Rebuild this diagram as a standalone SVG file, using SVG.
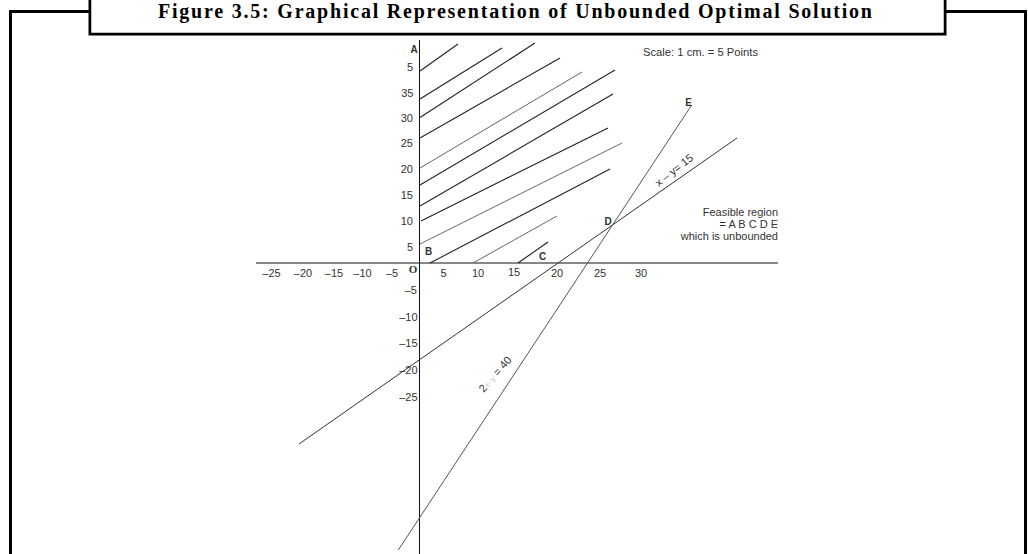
<svg xmlns="http://www.w3.org/2000/svg" width="1028" height="554" viewBox="0 0 1028 554">
<style>
.frame{fill:none;stroke:#000;stroke-width:3}
.title{font-family:"Liberation Serif",serif;font-weight:bold;font-size:20px;fill:#000}
.axis{stroke:#111;stroke-width:1;fill:none}
.tick{font-family:"Liberation Sans",Arial,sans-serif;font-size:11px;fill:#333}
.pt{font-family:"Liberation Sans",Arial,sans-serif;font-size:10px;font-weight:bold;fill:#333;text-anchor:middle}
.note{font-family:"Liberation Sans",Arial,sans-serif;font-size:11px;fill:#333}
.h{stroke:#222;stroke-width:1.1;fill:none}
.hl{stroke:#666;stroke-width:1;fill:none}
.c1{stroke:#333;stroke-width:1;fill:none}
.c2{stroke:#555;stroke-width:1;fill:none}
</style>
<rect x="0" y="0" width="1028" height="554" fill="#fff"/>
<g id="frame">
<path class="frame" d="M10.5,554 V11.5 H90 M945,11.5 H1025.5 V554"/>
<path class="frame" d="M90,-5 V34 H945 V-5" stroke-width="2.5"/>
<rect x="91.5" y="-2" width="852" height="34.5" fill="#fff"/>
<text class="title" x="158" y="18" textLength="714" lengthAdjust="spacing">Figure 3.5: Graphical Representation of Unbounded Optimal Solution</text>
</g>
<g id="axes">
<line class="axis" x1="419.5" y1="40" x2="419.5" y2="554"/>
<line class="axis" x1="256" y1="263" x2="778" y2="263"/>
</g>
<g id="x-ticks" class="tick" text-anchor="middle">
<text x="271.5" y="277">–25</text>
<text x="303" y="277">–20</text>
<text x="334" y="277">–15</text>
<text x="362.5" y="277">–10</text>
<text x="392" y="277">–5</text>
<text x="443.5" y="277">5</text>
<text x="478" y="277">10</text>
<text x="514" y="275.5">15</text>
<text x="557" y="277">20</text>
<text x="600" y="277">25</text>
<text x="641" y="277">30</text>
</g>
<g id="y-ticks" class="tick" text-anchor="end">
<text x="413" y="71">5</text>
<text x="413.5" y="96.5">35</text>
<text x="413" y="122">30</text>
<text x="413" y="147">25</text>
<text x="413" y="173">20</text>
<text x="413" y="199">15</text>
<text x="413" y="224.5">10</text>
<text x="413" y="250.5">5</text>
<text x="417" y="294">–5</text>
<text x="417.5" y="320.5">–10</text>
<text x="417.5" y="347">–15</text>
<text x="417.5" y="374">–20</text>
<text x="417.5" y="400.5">–25</text>
</g>
<g id="hatching">
<line class="h" x1="420" y1="71" x2="458" y2="44"/>
<line class="h" x1="420" y1="99" x2="502" y2="48"/>
<line class="h" x1="420" y1="117.5" x2="535" y2="43" stroke-width="1.4"/>
<line class="h" x1="420" y1="138" x2="560" y2="58"/>
<line class="hl" x1="420" y1="168" x2="582" y2="72"/>
<line class="h" x1="420" y1="185" x2="615" y2="70"/>
<line class="h" x1="420" y1="206" x2="613" y2="94"/>
<line class="h" x1="421" y1="221" x2="608" y2="128"/>
<line class="hl" x1="420" y1="244" x2="622" y2="143"/>
<line class="h" x1="430" y1="263" x2="610" y2="169"/>
<line class="hl" x1="473" y1="263" x2="557" y2="216"/>
<line class="h" x1="518" y1="263" x2="548" y2="242"/>
</g>
<g id="connectors">
<line class="c1" x1="299" y1="444" x2="737" y2="138"/>
<line class="c2" x1="691.7" y1="105" x2="398.3" y2="550"/>
</g>
<g id="point-labels">
<text class="pt" x="414" y="53">A</text>
<text class="pt" x="428.5" y="255">B</text>
<text class="pt" x="542.5" y="260">C</text>
<text class="pt" x="608" y="225">D</text>
<text class="pt" x="688.5" y="106" font-size="11">E</text>
<text x="413" y="273" text-anchor="middle" font-family="'Liberation Serif',serif" font-weight="bold" font-size="11" fill="#333">O</text>
</g>
<g id="line-labels">
<text class="note" transform="translate(674,170) rotate(-38)" x="0" y="4" text-anchor="middle" font-size="12">x – y= 15</text>
<text class="note" transform="translate(495,374) rotate(-49)" x="0" y="4" text-anchor="middle">2<tspan font-size="8" fill="#c8c8c8">x–y</tspan> = 40</text>
</g>
<g id="notes">
<text class="note" x="643" y="55.5" font-size="10.5" textLength="115" lengthAdjust="spacingAndGlyphs">Scale: 1 cm. = 5 Points</text>
<text class="note" text-anchor="end" x="778" y="216">Feasible region</text>
<text class="note" text-anchor="end" x="778" y="227.5">= A B C D E</text>
<text class="note" text-anchor="end" x="778" y="240">which is unbounded</text>
</g>
</svg>
